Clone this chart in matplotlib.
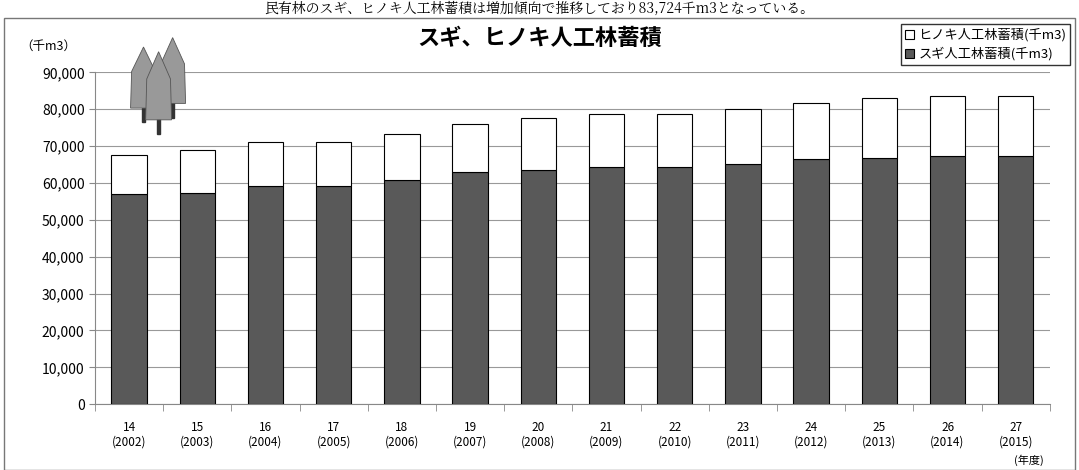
import matplotlib.pyplot as plt
from matplotlib.patches import Rectangle, Polygon
import numpy as np

plt.rcParams['font.family'] = ['Noto Sans CJK JP', 'DejaVu Sans']

years = ["14\n(2002)", "15\n(2003)", "16\n(2004)", "17\n(2005)", "18\n(2006)", "19\n(2007)",
         "20\n(2008)", "21\n(2009)", "22\n(2010)", "23\n(2011)", "24\n(2012)", "25\n(2013)",
         "26\n(2014)", "27\n(2015)"]
sugi = [56900, 57400, 59300, 59300, 60800, 62900, 63600, 64400, 64400, 65200, 66500, 66900, 67200, 67200]
total = [67700, 68900, 71200, 71200, 73400, 75900, 77500, 78600, 78600, 80000, 81800, 83100, 83700, 83724]
hinoki = [t - s for t, s in zip(total, sugi)]

fig = plt.figure(figsize=(10.79, 4.70), dpi=100)
ax = fig.add_axes([0.088, 0.14, 0.885, 0.706])

x = np.arange(len(years))
ax.bar(x, sugi, 0.52, color='#595959', edgecolor='black', linewidth=0.8,
       label='スギ人工林蓄積(千m3)', zorder=3)
ax.bar(x, hinoki, 0.52, bottom=sugi, color='white', edgecolor='black', linewidth=0.8,
       label='ヒノキ人工林蓄積(千m3)', zorder=3)

ax.set_ylim(0, 90000)
ax.set_xlim(-0.5, len(years) - 0.5)
ax.set_yticks(range(0, 90001, 10000))
ax.set_yticklabels([f"{v:,}" for v in range(0, 90001, 10000)], fontsize=10)
ax.set_xticks(np.arange(-0.5, len(years), 1), minor=True)
ax.set_xticks(x)
ax.set_xticklabels(years, fontsize=8.5)
ax.tick_params(axis='x', which='major', length=0, pad=12)
ax.tick_params(axis='x', which='minor', length=5, color='#888888')
ax.tick_params(axis='y', length=4, color='#888888')
ax.grid(axis='y', color='#999999', linewidth=0.8, zorder=0)
for s in ['top', 'right']:
    ax.spines[s].set_visible(False)
ax.spines['left'].set_color('#888888')
ax.spines['bottom'].set_color('#888888')

fig.text(0.954, 0.012, '(年度)', fontsize=8, ha='center')
fig.text(0.045, 0.895, '（千m3）', fontsize=9, ha='center')
fig.text(0.5, 0.905, 'スギ、ヒノキ人工林蓄積', fontsize=16, ha='center', weight='bold')
fig.text(0.5, 0.982, '民有林のスギ、ヒノキ人工林蓄積は増加傾向で推移しており83,724千m3となっている。',
         fontsize=10, ha='center', va='center', family=['Noto Serif CJK JP', 'Noto Sans CJK JP'])

h, l = ax.get_legend_handles_labels()
fig.legend(handles=h[::-1], labels=l[::-1],
           loc='upper right', bbox_to_anchor=(0.998, 0.962), fontsize=9.5,
           frameon=True, fancybox=False, edgecolor='black', handlelength=0.7,
           handletextpad=0.3, borderpad=0.3, labelspacing=0.4)

# outer frame
fig.patches.append(Rectangle((0.004, 0.0), 0.992, 0.962, transform=fig.transFigure,
                             fill=False, edgecolor='#777777', linewidth=1))

# tree icon
for cx, base, h_ in [(0.160, 0.78, 0.14), (0.133, 0.77, 0.13), (0.147, 0.745, 0.145)]:
    fig.patches.append(Rectangle((cx - 0.0012, base - 0.03), 0.0024, 0.035,
                                 transform=fig.transFigure, color='#333333'))
    fig.patches.append(Polygon([(cx - 0.012, base), (cx - 0.011, base + h_ * 0.6), (cx, base + h_),
                                (cx + 0.011, base + h_ * 0.6), (cx + 0.012, base)],
                               closed=True, transform=fig.transFigure,
                               facecolor='#999999', edgecolor='#555555', linewidth=0.6))

fig.savefig('out.png', dpi=100)
